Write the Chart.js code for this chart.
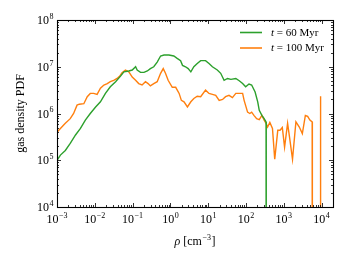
<!DOCTYPE html>
<html><head><meta charset="utf-8">
<script src="https://cdn.jsdelivr.net/npm/chart.js@4/dist/chart.umd.min.js"></script>
<style>html,body{margin:0;padding:0;background:#fff}canvas{display:block}</style>
</head><body>
<canvas id="c" width="346" height="260"></canvas>
<script>
// ---- data ----
const seriesNames = ['60 Myr', '100 Myr'];
const seriesColors = ['#2ca02c', '#ff7f0e'];

const rho60 = [1.00e-3,1.23e-3,1.66e-3,2.24e-3,3.09e-3,4.17e-3,5.62e-3,7.59e-3,1.05e-2,1.41e-2,1.91e-2,2.57e-2,3.55e-2,4.79e-2,5.89e-2,7.94e-2,9.77e-2,0.120,0.132,0.162,0.200,0.245,0.295,0.363,0.447,0.550,0.676,0.912,1.23,1.51,1.86,2.09,2.51,2.95,3.47,4.17,5.13,6.31,8.51,10.5,12.9,17.4,21.4,26.3,32.4,39.8,53.7,66.1,81.3,97.7,120,141,174,204,224,263,302,339,343];
const pdf60 = [1.00e5,1.29e5,1.62e5,2.29e5,3.47e5,4.79e5,7.24e5,1.00e6,1.38e6,1.78e6,2.69e6,3.72e6,4.79e6,6.31e6,7.76e6,8.13e6,8.51e6,1.00e7,8.51e6,7.59e6,7.59e6,8.13e6,9.12e6,1.00e7,1.26e7,1.70e7,1.78e7,1.78e7,1.70e7,1.51e7,1.35e7,1.07e7,1.00e7,9.12e6,7.76e6,1.00e7,1.17e7,1.35e7,1.35e7,1.17e7,1.00e7,8.51e6,7.24e6,5.13e6,5.62e6,5.37e6,5.62e6,5.01e6,4.37e6,3.72e6,4.27e6,4.07e6,2.88e6,1.78e6,1.17e6,9.12e5,7.76e5,6.61e5,1e-3];

const rho100 = [1.00e-3,1.23e-3,1.66e-3,2.24e-3,2.75e-3,3.39e-3,3.89e-3,5.13e-3,6.31e-3,7.59e-3,9.33e-3,1.15e-2,1.41e-2,1.74e-2,2.14e-2,2.57e-2,3.16e-2,3.89e-2,4.57e-2,5.25e-2,6.46e-2,7.94e-2,9.77e-2,0.120,0.145,0.178,0.219,0.257,0.295,0.363,0.447,0.550,0.646,0.741,0.871,1.12,1.38,1.70,1.95,2.29,2.82,3.47,4.17,5.13,6.31,8.51,10.5,12.9,15.8,19.5,24.0,28.8,35.5,43.7,53.7,66.1,81.3,89.1,110,126,141,162,191,224,263,302,339,372,427,501,575,692,794,912,1047,1259,1413,1698,2089,2570,3090,3715,4266,4898,5623,5690,9226,9333,9441];
const pdf100 = [3.98e5,4.79e5,6.17e5,7.76e5,1.00e6,1.51e6,1.58e6,1.62e6,2.29e6,2.69e6,2.69e6,2.57e6,3.47e6,4.07e6,4.37e6,4.79e6,5.13e6,5.62e6,6.31e6,7.41e6,8.51e6,7.76e6,6.03e6,5.13e6,4.37e6,4.07e6,4.79e6,4.37e6,3.89e6,4.37e6,4.79e6,7.24e6,9.12e6,7.24e6,5.13e6,3.63e6,3.63e6,2.69e6,1.91e6,1.78e6,1.38e6,1.78e6,2.09e6,2.34e6,2.29e6,3.16e6,2.69e6,2.57e6,2.45e6,1.91e6,2.00e6,2.29e6,2.45e6,2.19e6,2.69e6,2.69e6,2.69e6,1.91e6,1.07e6,1.00e6,1.07e6,9.12e5,7.76e5,7.41e5,9.12e5,7.24e5,6.17e5,5.13e5,6.46e5,4.79e5,1.05e5,4.37e5,4.37e5,5.01e5,1.91e5,6.17e5,3.16e5,1.05e5,6.61e5,5.13e5,3.72e5,9.12e5,8.71e5,7.24e5,6.61e5,1e-3,1e-3,2.34e6,1e-3];

const xTickExponents = [-3,-2,-1,0,1,2,3,4];
const yTickExponents = [4,5,6,7,8];
const xRange = [1e-3, 2e4];
const yRange = [1e4, 1e8];
const yTitle = 'gas density PDF';

// ---- helpers ----
function pts(xs, ys){ return xs.map((x,i)=>({x:x, y:ys[i]})); }
const SERIF = '"Liberation Serif", "Times New Roman", serif';

function drawPow(ctx, base, exp, x, y, align, size){
  ctx.font = size + 'px ' + SERIF;
  const wb = ctx.measureText(base).width;
  const supSize = Math.round(size*0.7);
  ctx.font = supSize + 'px ' + SERIF;
  const es = String(exp).replace('-', '\u2212');
  const we = ctx.measureText(es).width;
  const total = wb + we + 0.5;
  let x0 = align === 'center' ? x - total/2 : (align === 'right' ? x - total : x);
  ctx.textAlign = 'left';
  ctx.textBaseline = 'alphabetic';
  ctx.font = size + 'px ' + SERIF;
  ctx.fillText(base, x0, y);
  ctx.font = supSize + 'px ' + SERIF;
  ctx.fillText(es, x0 + wb + 0.5, y - size*0.42);
}

const axesPlugin = {
  id: 'mplAxes',
  afterDatasetsDraw(chart){
    const ctx = chart.ctx, a = chart.chartArea;
    const xs = chart.scales.x, ys = chart.scales.y;
    ctx.save();
    ctx.strokeStyle = '#000'; ctx.fillStyle = '#000';
    // ticks (inside, all four sides)
    ctx.lineWidth = 0.8;
    ctx.beginPath();
    for (let e = -3; e <= 4; e++){
      for (let k = 1; k <= 9; k++){
        const v = k*Math.pow(10,e);
        if (v < xRange[0] || v > xRange[1]) continue;
        const px = Math.round(xs.getPixelForValue(v)) + 0.5;
        const L = k === 1 ? 4 : 2;
        ctx.moveTo(px, a.bottom); ctx.lineTo(px, a.bottom - L);
        ctx.moveTo(px, a.top); ctx.lineTo(px, a.top + L);
      }
    }
    for (let e = 4; e <= 8; e++){
      for (let k = 1; k <= 9; k++){
        const v = k*Math.pow(10,e);
        if (v < yRange[0] || v > yRange[1]) continue;
        const py = Math.round(ys.getPixelForValue(v)) + 0.5;
        const L = k === 1 ? 4 : 2;
        ctx.moveTo(a.left, py); ctx.lineTo(a.left + L, py);
        ctx.moveTo(a.right, py); ctx.lineTo(a.right - L, py);
      }
    }
    ctx.stroke();
    // frame
    ctx.lineWidth = 1.1;
    ctx.strokeRect(Math.round(a.left)+0.5, Math.round(a.top)+0.5, Math.round(a.right-a.left), Math.round(a.bottom-a.top));
    // tick labels
    xTickExponents.forEach(e => {
      drawPow(ctx, '10', e, xs.getPixelForValue(Math.pow(10,e)), a.bottom + 16, 'center', 12);
    });
    yTickExponents.forEach(e => {
      drawPow(ctx, '10', e, a.left - 3.5, ys.getPixelForValue(Math.pow(10,e)) + 4, 'right', 12);
    });
    // x title: rho [cm^-3]
    {
      const size = 12;
      ctx.font = 'italic ' + size + 'px ' + SERIF;
      const w1 = ctx.measureText('\u03c1').width;
      ctx.font = size + 'px ' + SERIF;
      const w2 = ctx.measureText(' [cm').width;
      ctx.font = Math.round(size*0.7) + 'px ' + SERIF;
      const w3 = ctx.measureText('\u22123').width;
      ctx.font = size + 'px ' + SERIF;
      const w4 = ctx.measureText(']').width;
      const tot = w1 + w2 + w3 + w4 + 1;
      let x0 = (a.left + a.right)/2 - tot/2;
      const by = 245;
      ctx.textAlign = 'left'; ctx.textBaseline = 'alphabetic';
      ctx.font = 'italic ' + size + 'px ' + SERIF; ctx.fillText('\u03c1', x0, by); x0 += w1;
      ctx.font = size + 'px ' + SERIF; ctx.fillText(' [cm', x0, by); x0 += w2 + 0.5;
      ctx.font = Math.round(size*0.7) + 'px ' + SERIF; ctx.fillText('\u22123', x0, by - 5); x0 += w3 + 0.5;
      ctx.font = size + 'px ' + SERIF; ctx.fillText(']', x0, by);
    }
    // y title
    ctx.save();
    ctx.translate(24, (a.top + a.bottom)/2);
    ctx.rotate(-Math.PI/2);
    ctx.font = '12px ' + SERIF;
    ctx.textAlign = 'center'; ctx.textBaseline = 'alphabetic';
    ctx.fillText(yTitle, 0, 0);
    ctx.restore();
    // legend
    chart.data.datasets.forEach((ds, i) => {
      const ly = 32.5 + i*15.5;
      ctx.strokeStyle = ds.borderColor; ctx.lineWidth = 1.6;
      ctx.beginPath(); ctx.moveTo(240, ly); ctx.lineTo(262, ly); ctx.stroke();
      ctx.fillStyle = '#000'; ctx.textAlign = 'left'; ctx.textBaseline = 'middle';
      ctx.font = 'italic 11px ' + SERIF;
      const wt = ctx.measureText('t').width;
      ctx.fillText('t', 271, ly + 0.5);
      ctx.font = '11px ' + SERIF;
      ctx.fillText(' = ' + seriesNames[i], 271 + wt, ly + 0.5);
    });
    ctx.restore();
  }
};

new Chart(document.getElementById('c'), {
  type: 'line',
  data: {
    datasets: [
      {label: 't = ' + seriesNames[0], data: pts(rho60, pdf60), borderColor: seriesColors[0], borderWidth: 1.4, pointRadius: 0, tension: 0, fill: false},
      {label: 't = ' + seriesNames[1], data: pts(rho100, pdf100), borderColor: seriesColors[1], borderWidth: 1.4, pointRadius: 0, tension: 0, fill: false}
    ]
  },
  options: {
    responsive: false,
    animation: false,
    parsing: true,
    layout: {padding: {left: 57, top: 20, right: 13, bottom: 53}},
    plugins: {legend: {display: false}, tooltip: {enabled: false}},
    scales: {
      x: {type: 'logarithmic', min: xRange[0], max: xRange[1], display: false},
      y: {type: 'logarithmic', min: yRange[0], max: yRange[1], display: false}
    }
  },
  plugins: [axesPlugin]
});
</script>
</body></html>
